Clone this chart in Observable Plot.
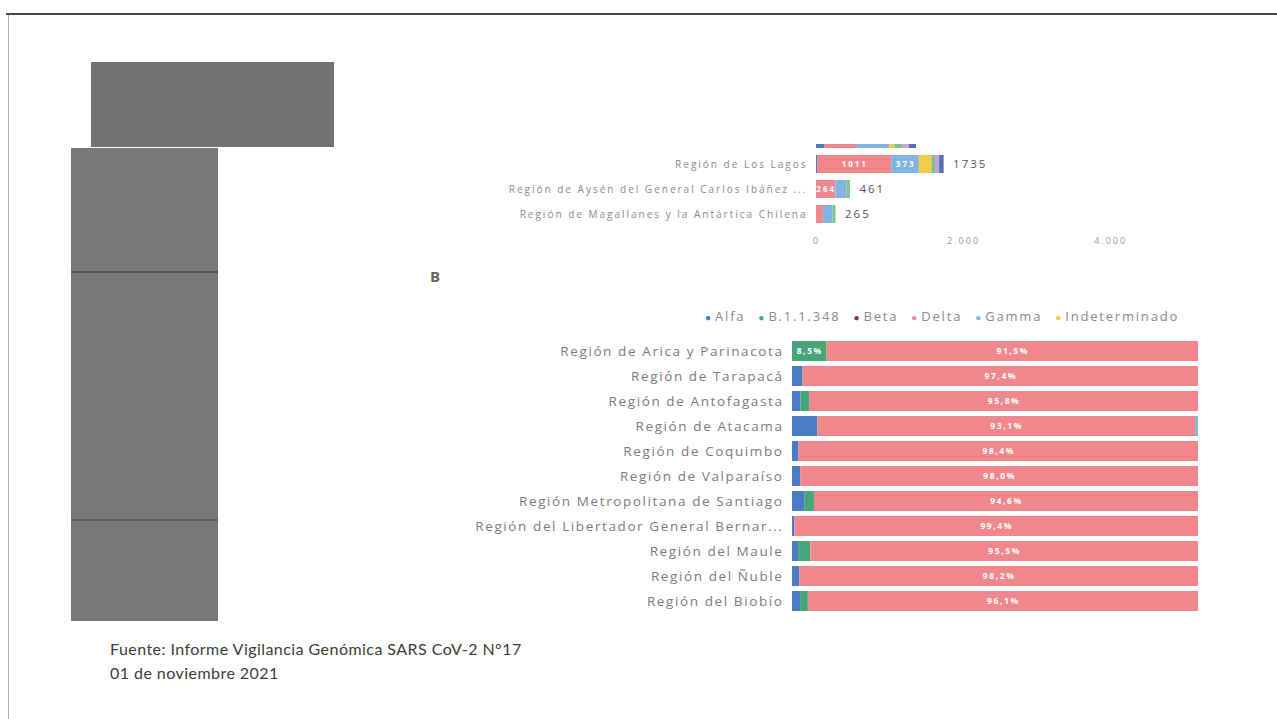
<!DOCTYPE html>
<html><head><meta charset="utf-8">
<script src="https://cdn.jsdelivr.net/npm/d3@7"></script>
<script src="https://cdn.jsdelivr.net/npm/@observablehq/plot@0.6"></script>
<style>
body{margin:0;background:#fff;width:1277px;height:719px;position:relative;overflow:hidden;font-family:"Open Sans",sans-serif}
.abs{position:absolute}
#chartA svg text{letter-spacing:2px}
#chartB svg text{letter-spacing:1.6px}
#chartB svg text.seg, #chartA svg text.seg{letter-spacing:0.8px}
#legend{display:flex;gap:13px;font-size:13px;color:#8a8a8a;letter-spacing:1.8px;white-space:nowrap}
#legend span.dot{font-size:10px;margin-right:4px;letter-spacing:0}
</style></head><body>
<div class="abs" style="left:6px;top:13px;width:1271px;height:2px;background:#4a4a4a"></div>
<div class="abs" style="left:8px;top:15px;width:1px;height:704px;background:#aaa"></div>
<div class="abs" style="left:91px;top:62px;width:243px;height:85px;background:#727272"></div>
<div class="abs" style="left:71px;top:148px;width:147px;height:473px;background:#787878"></div>
<div class="abs" style="left:71px;top:271px;width:147px;height:2px;background:#555"></div>
<div class="abs" style="left:71px;top:519px;width:147px;height:2px;background:#5e5e5e"></div>
<div class="abs" style="left:430px;top:266px;font-size:15px;font-weight:bold;color:#666">B</div>
<div id="chartA" class="abs" style="left:470px;top:144px;width:760px;height:106px;overflow:hidden"></div>
<div id="legend" class="abs" style="left:705px;top:307px"></div>
<div id="chartB" class="abs" style="left:440px;top:330px"></div>
<div class="abs" style="left:110px;top:637px;font-family:Lato,sans-serif;font-size:16px;letter-spacing:0.45px;line-height:24px;color:#3c3c3c">Fuente: Informe Vigilancia Genómica SARS CoV-2 N°17<br>01 de noviembre 2021</div>
<script>
// Variants and colours
const variants = ["Alfa","B.1.1.348","Beta","Delta","Gamma","Indeterminado","Lambda","Mu","Otras"];
const variantColors = ["#4a7cc4","#46a67a","#6b3b4f","#f0878d","#80b4e2","#f2cd48","#7cc48a","#c7a2d6","#5670b8"];
const legendVariants = ["Alfa","B.1.1.348","Beta","Delta","Gamma","Indeterminado"];

// Panel A: number of sequenced samples by region (first row scrolled out of view)
const regionsA = ["Región de Los Ríos","Región de Los Lagos","Región de Aysén del General Carlos Ibáñez ...","Región de Magallanes y la Antártica Chilena"];
const countsAlfaA = [110, 15, 0, 0];
const countsDeltaA = [435, 1011, 264, 93];
const countsGammaA = [450, 373, 150, 132];
const countsIndetA = [70, 170, 0, 0];
const countsLambdaA = [110, 50, 47, 40];
const countsMuA = [90, 55, 0, 0];
const countsOtrasA = [95, 61, 0, 0];
const ticksA = [0, 2000, 4000];

// Panel B: percentage by region
const regionsB = ["Región de Arica y Parinacota","Región de Tarapacá","Región de Antofagasta","Región de Atacama","Región de Coquimbo","Región de Valparaíso","Región Metropolitana de Santiago","Región del Libertador General Bernar...","Región del Maule","Región del Ñuble","Región del Biobío"];
const pctAlfaB = [0, 2.6, 2.1, 6.2, 1.6, 2.0, 3.0, 0.6, 1.5, 1.8, 2.0];
const pctB11348B = [8.5, 0, 2.1, 0, 0, 0, 2.4, 0, 3.0, 0, 1.9];
const pctDeltaB = [91.5, 97.4, 95.8, 93.1, 98.4, 98.0, 94.6, 99.4, 95.5, 98.2, 96.1];
const pctGammaB = [0, 0, 0, 0.7, 0, 0, 0, 0, 0, 0, 0];

const hiddenRow = regionsA[0];
const seriesA = [["Alfa",countsAlfaA],["Delta",countsDeltaA],["Gamma",countsGammaA],["Indeterminado",countsIndetA],["Lambda",countsLambdaA],["Mu",countsMuA],["Otras",countsOtrasA]];
const dataA = [];
regionsA.forEach((r,i)=>{ for (const [v,arr] of seriesA) dataA.push({region:r, variant:v, value:arr[i]}); });
const totalsA = regionsA.map((r,i)=>({region:r, total: d3.sum(seriesA, s=>s[1][i])})).filter(d => d.region !== hiddenRow);

const seriesB = [["Alfa",pctAlfaB],["B.1.1.348",pctB11348B],["Delta",pctDeltaB],["Gamma",pctGammaB]];
const dataB = [];
regionsB.forEach((r,i)=>{ for (const [v,arr] of seriesB) dataB.push({region:r, variant:v, value:arr[i]}); });

const loc = d3.formatLocale({decimal:",", thousands:".", grouping:[3], currency:["","€"]});
const fmtK = loc.format(",d");
const fmtPct = v => loc.format(".1f")(v) + "%";
const color = {domain: variants, range: variantColors};

const chartA = Plot.plot({
  width: 760, height: 130, marginLeft: 346, marginRight: 61, marginTop: 0, marginBottom: 19,
  style: {fontFamily: "'Open Sans', sans-serif", background: "transparent", overflow: "visible"},
  x: {domain: [0, 4800]},
  y: {domain: regionsA, range: [1, 110.65], padding: 0.3, axis: null},
  color,
  marks: [
    Plot.gridX(ticksA.slice(1), {stroke: "#efefef", strokeOpacity: 1, y1: 0, y2: 111}),
    Plot.barX(dataA, Plot.stackX({x: "value", y: "region", fill: "variant", order: variants})),
    Plot.text(dataA, Plot.stackX({x: "value", y: "region", z: "variant", order: variants, text: d => (d.value > 200 && d.region !== hiddenRow) ? String(d.value) : "", fill: "white", fontSize: 8, fontWeight: "bold", className: "seg"})),
    Plot.text(totalsA, {x: "total", y: "region", text: d => String(d.total), dx: 9, textAnchor: "start", fill: "#555", fontSize: 11.5}),
    Plot.text(regionsA.filter(r => r !== hiddenRow), {y: d => d, text: d => d, frameAnchor: "left", dx: -9, textAnchor: "end", fontSize: 10, fill: "#8a8a8a"}),
    Plot.axisX({ticks: ticksA, tickSize: 0, tickPadding: 6, tickFormat: fmtK, fontSize: 9, color: "#999", label: null})
  ]
});
chartA.style.position = "absolute";
chartA.style.top = "-24px";
chartA.style.left = "0px";
document.getElementById("chartA").appendChild(chartA);

const chartB = Plot.plot({
  width: 770, height: 295, marginLeft: 352, marginRight: 12, marginTop: 0, marginBottom: 0,
  style: {fontFamily: "'Open Sans', sans-serif", background: "transparent", overflow: "visible"},
  x: {domain: [0, 100], axis: null},
  y: {domain: regionsB, range: [4.88, 287.1], padding: 0.2},
  color,
  marks: [
    Plot.barX(dataB, Plot.stackX({x: "value", y: "region", fill: "variant", order: variants})),
    Plot.text(dataB, Plot.stackX({x: "value", y: "region", z: "variant", order: variants, text: d => d.value >= 8 ? fmtPct(d.value) : "", fill: "white", fontSize: 8.5, fontWeight: "bold", className: "seg"})),
    Plot.axisY({tickSize: 0, tickPadding: 9, fontSize: 13.5, color: "#7b7b7b", label: null})
  ]
});
document.getElementById("chartB").appendChild(chartB);

const leg = document.getElementById("legend");
legendVariants.forEach(v => {
  const it = document.createElement("span");
  const dot = document.createElement("span");
  dot.className = "dot";
  dot.textContent = "●";
  dot.style.color = variantColors[variants.indexOf(v)];
  it.appendChild(dot);
  it.appendChild(document.createTextNode(v));
  leg.appendChild(it);
});
</script>
</body></html>
